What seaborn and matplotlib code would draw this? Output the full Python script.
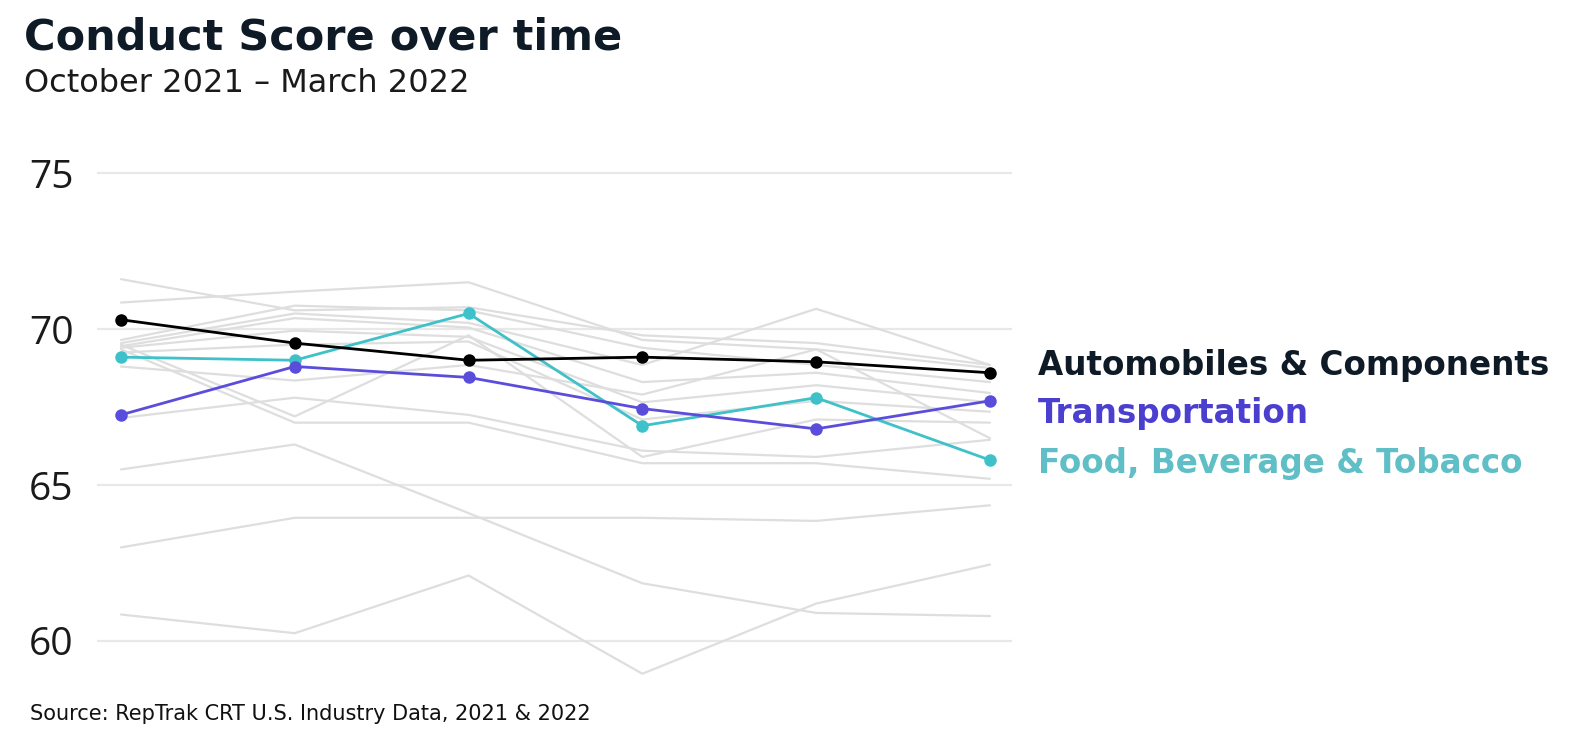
import matplotlib
matplotlib.use("Agg")
import matplotlib.pyplot as plt
import seaborn as sns
import pandas as pd

months = ["Oct 2021", "Nov 2021", "Dec 2021", "Jan 2022", "Feb 2022", "Mar 2022"]

automobiles = [70.3, 69.55, 69.0, 69.1, 68.95, 68.6]
transportation = [67.25, 68.8, 68.45, 67.45, 66.8, 67.7]
food_bev = [69.1, 69.0, 70.5, 66.9, 67.8, 65.8]

gray_a = [71.6, 70.6, 70.7, 69.8, 69.55, 68.85]
gray_b = [70.85, 71.2, 71.5, 69.65, 69.35, 68.75]
gray_c = [69.65, 70.75, 70.6, 69.4, 68.85, 68.3]
gray_d = [69.55, 70.5, 70.2, 68.85, 70.65, 68.85]
gray_e = [69.45, 70.35, 70.05, 68.3, 68.6, 67.95]
gray_f = [69.4, 69.95, 69.75, 67.65, 68.2, 67.65]
gray_g = [69.25, 69.5, 69.6, 67.1, 67.7, 67.35]
gray_h = [68.8, 68.35, 68.85, 67.9, 69.35, 66.5]
gray_i = [69.5, 67.2, 69.8, 65.9, 67.1, 67.0]
gray_j = [69.35, 67.0, 67.0, 65.7, 65.7, 65.2]
gray_k = [67.15, 67.8, 67.25, 66.1, 65.9, 66.45]
gray_l = [65.5, 66.3, 64.1, 61.85, 60.9, 60.8]
gray_m = [63.0, 63.95, 63.95, 63.95, 63.85, 64.35]
gray_n = [60.85, 60.25, 62.1, 58.95, 61.2, 62.45]

yticks = [60, 65, 70, 75]
highlight_names = ["Automobiles & Components", "Transportation", "Food, Beverage & Tobacco"]
highlight_colors = ["#000000", "#5a4ddb", "#3ec1c9"]
label_colors = ["#0e1a26", "#4b3fd0", "#5fbec6"]

grays = [gray_a, gray_b, gray_c, gray_d, gray_e, gray_f, gray_g,
         gray_h, gray_i, gray_j, gray_k, gray_l, gray_m, gray_n]

rows = []
for gi, series in enumerate(grays):
    for xi, v in enumerate(series):
        rows.append({"industry": f"other_{gi}", "x": xi, "score": v})
gray_df = pd.DataFrame(rows)

rows = []
for name, series in zip(highlight_names, [automobiles, transportation, food_bev]):
    for xi, v in enumerate(series):
        rows.append({"industry": name, "x": xi, "score": v})
hl_df = pd.DataFrame(rows)

sns.set_theme(style="white")
plt.rcParams["font.family"] = ["DejaVu Sans"]

fig = plt.figure(figsize=(15.72, 7.36), dpi=100)
ax = fig.add_axes([0.0617, 0.0761, 0.5821, 0.7065])

for yv in yticks:
    ax.axhline(yv, color="#e8e8e8", lw=1.6, zorder=0)

sns.lineplot(data=gray_df, x="x", y="score", hue="industry",
             palette=["#dedede"] * len(grays), legend=False, lw=1.6,
             ax=ax, zorder=1, estimator=None)

order = [2, 1, 0]
for i in order:
    sub = hl_df[hl_df["industry"] == highlight_names[i]]
    sns.lineplot(data=sub, x="x", y="score", color=highlight_colors[i],
                 lw=2.0, marker="o", markersize=9, markeredgewidth=0,
                 ax=ax, zorder=3 + (2 - i), estimator=None, legend=False)

ax.set_xlim(-0.138, 5.127)
ax.set_ylim(58.75, 75.42)
ax.set_yticks(yticks)
ax.set_yticklabels([str(t) for t in yticks], fontsize=28, color="#1a1a1a",
                   family=["Open Sans", "DejaVu Sans"])
ax.set_xticks([])
ax.set_xlabel("")
ax.set_ylabel("")
ax.tick_params(axis="y", length=0, pad=17)
for s in ax.spines.values():
    s.set_visible(False)

fig.text(24 / 1572, 1 - 38 / 736, "Conduct Score over time", fontsize=31,
         fontweight="bold", color="#0e1a26", va="center", ha="left")
fig.text(24 / 1572, 1 - 84 / 736, "October 2021 \u2013 March 2022", fontsize=23,
         color="#1a1a1a", va="center", ha="left")

for i, (name, col) in enumerate(zip(highlight_names, label_colors)):
    fig.text(1038 / 1572, 1 - (365 + i * 49) / 736, name, fontsize=23.5,
             fontweight="bold", color=col, va="center", ha="left")

fig.text(30 / 1572, 1 - 714 / 736, "Source: RepTrak CRT U.S. Industry Data, 2021 & 2022",
         fontsize=15, color="#111111", va="center", ha="left")

fig.savefig("out.png", dpi=100)
